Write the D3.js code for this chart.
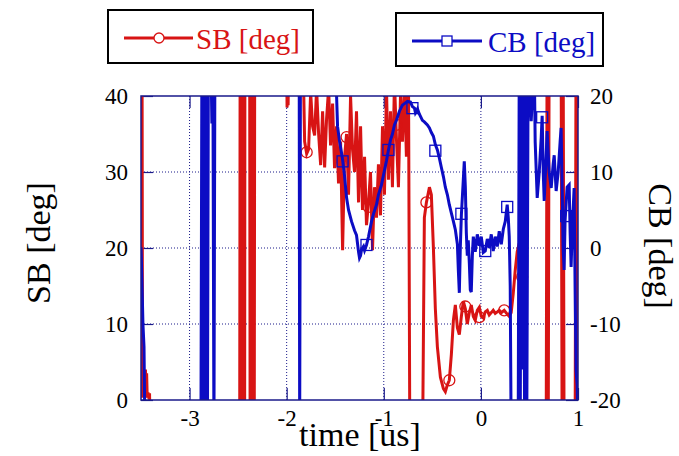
<!DOCTYPE html>
<html>
<head>
    <meta charset="utf-8">
    <title>SB / CB vs time</title>
    <script src="https://d3js.org/d3.v7.min.js" type="text/javascript"></script>
    <style type="text/css">
        body { margin: 0; background: #fff; }
        text { font-family: "Liberation Serif", "Times New Roman", serif; }
    </style>
</head>
<body>
<div id="chart"></div>
<script type="text/javascript">
    // tick values
    var timeTicks = [-3, -2, -1, 0, 1];
    var sbTicks = [0, 10, 20, 30, 40];
    var cbTicks = [-20, -10, 0, 10, 20];
    var gridTime = [-3, -2, -1, 0];
    var gridSB = [10, 20, 30];

    // SB [deg] vs time [us]  (values above 40 / below 0 run off the plot)
    var sbData = [
        [-3.499, 48], [-3.494, 0.5], [-3.489, 44], [-3.484, 0.3], [-3.478, 2.5], [-3.472, 0.4],
        [-3.466, 3.2], [-3.460, 1.0], [-3.454, 4.0], [-3.448, 0.5], [-3.442, 3.5], [-3.436, 0.3],
        [-3.428, 1.0], [-3.420, 0.2], [-3.412, 0.9], [-3.400, -8],
        [-2.484, -8], [-2.479, 48], [-2.474, -8], [-2.469, 48], [-2.464, -8], [-2.459, 48],
        [-2.454, -8], [-2.449, 48], [-2.444, -8], [-2.438, 48], [-2.433, -8], [-2.430, 48],
        [-2.381, 48], [-2.376, -8], [-2.371, 48], [-2.366, -8], [-2.361, 48], [-2.356, -8],
        [-2.351, 48], [-2.346, -8], [-2.340, 48], [-2.334, -8], [-2.329, 48],
        [-2.002, 48], [-1.996, 38.5], [-1.990, 41], [-1.985, 38.8], [-1.978, 48],
        [-1.835, 48], [-1.815, 34], [-1.794, 32.4], [-1.774, 33], [-1.753, 40.5], [-1.733, 36],
        [-1.712, 34.8], [-1.692, 41], [-1.671, 35], [-1.650, 30.9], [-1.630, 38], [-1.609, 30.6],
        [-1.589, 37], [-1.568, 41], [-1.548, 33.5], [-1.527, 39], [-1.507, 30.5], [-1.486, 36],
        [-1.466, 28.5], [-1.445, 34], [-1.424, 19.7], [-1.404, 32], [-1.383, 35], [-1.363, 27],
        [-1.342, 40], [-1.322, 33], [-1.301, 30], [-1.281, 38], [-1.260, 26], [-1.239, 36],
        [-1.219, 25], [-1.198, 32], [-1.178, 23], [-1.157, 26], [-1.137, 30], [-1.116, 19.7],
        [-1.096, 28], [-1.075, 24], [-1.055, 31], [-1.034, 24.3], [-1.013, 36], [-0.993, 27],
        [-0.972, 41], [-0.952, 29], [-0.931, 38], [-0.911, 28], [-0.890, 42], [-0.870, 34.5],
        [-0.849, 28], [-0.828, 40], [-0.808, 34], [-0.787, 42], [-0.767, 32], [-0.746, 45],
        [-0.731, -8], [-0.602, -8],
        [-0.582, 24], [-0.561, 26], [-0.530, 28], [-0.510, 27], [-0.489, 20], [-0.469, 12],
        [-0.448, 7], [-0.417, 3], [-0.386, 1.5], [-0.366, 1.1], [-0.345, 2.0], [-0.325, 2.6],
        [-0.304, 6], [-0.283, 10.5], [-0.263, 12.5], [-0.242, 9.5], [-0.222, 8.6], [-0.201, 11],
        [-0.181, 13], [-0.160, 12], [-0.140, 10], [-0.119, 11.5], [-0.099, 12.5], [-0.078, 11],
        [-0.058, 10.5], [-0.037, 11.8], [-0.016, 12.2], [0.004, 11], [0.025, 10.8], [0.045, 11.6],
        [0.066, 11.8], [0.086, 11.2], [0.107, 11.5], [0.127, 11.8], [0.148, 11.4], [0.169, 11.6],
        [0.189, 11.8], [0.210, 11.5], [0.240, 11.8], [0.271, 11.3], [0.292, 11.0], [0.312, 11.5],
        [0.333, 14], [0.353, 17], [0.374, 19.5], [0.395, 20.6], [0.415, 18], [0.425, 16.2],
        [0.446, 8], [0.467, -8],
        [0.672, -8], [0.682, 48], [0.693, -8], [0.703, 48],
        [0.826, 48], [0.837, -8], [0.847, 48], [0.857, -8],
        [0.970, -8], [0.980, 48], [0.991, -8], [1.001, 48]
    ];

    // CB [deg] vs time [us]  (values beyond +-20 run off the plot)
    var cbData = [
        [-3.500, 0.1], [-3.495, -2], [-3.490, -4.5], [-3.480, -10], [-3.469, -13], [-3.459, -25],
        [-2.883, -25], [-2.873, 25], [-2.862, -25], [-2.852, 25], [-2.837, -25], [-2.826, 25],
        [-2.816, -25], [-2.806, 25], [-2.780, 25], [-2.770, 16.4], [-2.760, 25], [-2.749, -25],
        [-2.739, 25],
        [-1.871, 25], [-1.866, -25], [-1.858, 25],
        [-1.496, 25], [-1.486, 20], [-1.476, 16], [-1.455, 14], [-1.435, 12.5], [-1.424, 11.6],
        [-1.404, 9.5], [-1.383, 6.6], [-1.363, 5], [-1.332, 3.5], [-1.301, 2.3], [-1.281, 1.7],
        [-1.260, -0.5], [-1.250, -1.3], [-1.239, -1.0], [-1.229, -0.2], [-1.209, 0.2], [-1.198, -0.3],
        [-1.178, 0.4], [-1.157, 1.5], [-1.126, 3.5], [-1.106, 4.5], [-1.075, 5.7], [-1.055, 7],
        [-1.024, 8.3], [-0.993, 10.2], [-0.972, 11.5], [-0.952, 12.9], [-0.931, 14.2], [-0.911, 15],
        [-0.890, 16.2], [-0.870, 16.8], [-0.839, 18], [-0.808, 18.8], [-0.787, 19], [-0.756, 19.3],
        [-0.725, 19.2], [-0.705, 18.6], [-0.684, 18.4], [-0.674, 17.8], [-0.653, 18.3], [-0.633, 17.6],
        [-0.602, 16.8], [-0.582, 16.6], [-0.551, 16.2], [-0.530, 15.8], [-0.510, 15.2], [-0.489, 14.7],
        [-0.469, 13.6], [-0.448, 12.9], [-0.427, 11.8], [-0.407, 10.6], [-0.386, 9.4], [-0.366, 8.0],
        [-0.345, 7.0], [-0.325, 5.7], [-0.304, 4.6], [-0.283, 3.5], [-0.263, 2.4], [-0.242, 0.5],
        [-0.232, -3], [-0.222, -5.9], [-0.212, 0], [-0.201, 4.3], [-0.181, 9], [-0.171, 11.4],
        [-0.160, 8], [-0.150, 2], [-0.140, -1], [-0.130, 1], [-0.119, -2], [-0.109, -5.5],
        [-0.099, -5.8], [-0.088, -1], [-0.078, 1.5], [-0.058, -0.5], [-0.037, 1.8], [-0.016, 0.3],
        [0.004, 1.5], [0.025, -0.6], [0.045, -0.4], [0.066, 1.2], [0.086, 0], [0.107, 1.8],
        [0.127, -0.4], [0.148, 1.5], [0.169, 0.2], [0.189, 2.2], [0.210, 0.5], [0.231, 2.5],
        [0.251, 3.5], [0.271, 5.7], [0.282, 4], [0.292, 1.5], [0.302, -5], [0.312, -25],
        [0.384, -25], [0.395, 25], [0.405, -25], [0.415, 25], [0.425, -16], [0.436, 25],
        [0.451, -25], [0.461, 25], [0.472, -25], [0.487, 25], [0.498, 22], [0.518, 16.7],
        [0.539, 22], [0.549, 25], [0.559, 14], [0.580, 6.6], [0.601, 10], [0.621, 14.5],
        [0.631, 17.4], [0.642, 10], [0.652, 6.2], [0.672, 12], [0.682, 15.4], [0.703, 10],
        [0.724, 7.9], [0.744, 11], [0.755, 12.2], [0.775, 7.5], [0.796, 10], [0.816, 14],
        [0.826, 15.8], [0.837, 8], [0.847, 0], [0.857, -2.9], [0.867, 3.6], [0.888, 8],
        [0.909, 8.3], [0.919, 2], [0.929, -2.5], [0.939, 1.7], [0.950, 5], [0.960, 7.9],
        [0.970, -5], [0.980, -16], [0.991, -18], [1.001, -25]
    ];

    // marker positions on each curve
    var sbMarks = [
        [-1.794, 32.6], [-1.383, 34.6], [-1.157, 25.4], [-0.870, 36.2], [-0.561, 26],
        [-0.325, 2.6], [-0.160, 12.3], [-0.016, 10.9], [0.240, 11.8], [0.425, 16.2]
    ];
    var cbMarks = [
        [-1.424, 11.4], [-1.178, 0.4], [-0.952, 12.9], [-0.705, 18.4], [-0.469, 12.8],
        [-0.201, 4.5], [0.045, -0.4], [0.271, 5.4], [0.631, 17.2], [0.878, 4.2]
    ];

    var red = '#d81414', blue = '#0c0cc4', navy = '#1a1a8a';
    var box = {left: 141, right: 578, top: 96, bottom: 400};

    var x = d3.scaleLinear().domain([-3.5, 1]).range([box.left, box.right]);
    var ySB = d3.scaleLinear().domain([0, 40]).range([box.bottom, box.top]);
    var yCB = d3.scaleLinear().domain([-20, 20]).range([box.bottom, box.top]);
    var plain = function(d) { return String(d); }; // plain hyphen minus, no decimals

    var svg = d3.select('#chart').append('svg')
        .attr('width', 679)
        .attr('height', 456);

    svg.append('defs').append('clipPath').attr('id', 'clip')
        .append('rect')
        .attr('x', box.left).attr('y', box.top)
        .attr('width', box.right - box.left).attr('height', box.bottom - box.top);

    // dotted grid
    svg.append('g').selectAll('line').data(gridTime).enter().append('line')
        .attr('x1', function(d) { return x(d); }).attr('x2', function(d) { return x(d); })
        .attr('y1', box.top).attr('y2', box.bottom)
        .attr('stroke', navy).attr('stroke-width', 1).attr('stroke-dasharray', '1,2');
    svg.append('g').selectAll('line').data(gridSB).enter().append('line')
        .attr('x1', box.left).attr('x2', box.right)
        .attr('y1', function(d) { return ySB(d); }).attr('y2', function(d) { return ySB(d); })
        .attr('stroke', navy).attr('stroke-width', 1).attr('stroke-dasharray', '1,2');

    // axes, ticks pointing inward
    function styleAxis(g, fs) {
        g.select('.domain').remove();
        g.selectAll('.tick line').attr('stroke', navy).attr('stroke-width', 1.2);
        g.selectAll('.tick text').attr('fill', '#000').attr('font-size', fs)
            .attr('font-family', '"Liberation Serif", "Times New Roman", serif');
    }
    svg.append('g').attr('transform', 'translate(0,' + box.bottom + ')')
        .call(d3.axisBottom(x).tickValues(timeTicks).tickFormat(plain)
            .tickSizeInner(-12).tickSizeOuter(0).tickPadding(10))
        .call(styleAxis, 23);
    svg.append('g').attr('transform', 'translate(0,' + box.top + ')')
        .call(d3.axisTop(x).tickValues(timeTicks).tickSizeInner(-12).tickSizeOuter(0).tickFormat(''))
        .call(styleAxis, 23);
    svg.append('g').attr('transform', 'translate(' + box.left + ',0)')
        .call(d3.axisLeft(ySB).tickValues(sbTicks).tickFormat(plain)
            .tickSizeInner(-12).tickSizeOuter(0).tickPadding(13))
        .call(styleAxis, 23);
    svg.append('g').attr('transform', 'translate(' + box.right + ',0)')
        .call(d3.axisRight(yCB).tickValues(cbTicks).tickFormat(plain)
            .tickSizeInner(-12).tickSizeOuter(0).tickPadding(12))
        .call(styleAxis, 23);

    // curves
    var plot = svg.append('g').attr('clip-path', 'url(#clip)');
    var sbLine = d3.line().x(function(d) { return x(d[0]); }).y(function(d) { return ySB(d[1]); });
    var cbLine = d3.line().x(function(d) { return x(d[0]); }).y(function(d) { return yCB(d[1]); });

    plot.append('path').datum(sbData).attr('d', sbLine)
        .attr('fill', 'none').attr('stroke', red).attr('stroke-width', 3);
    plot.selectAll('circle.sb').data(sbMarks).enter().append('circle')
        .attr('class', 'sb')
        .attr('cx', function(d) { return x(d[0]); }).attr('cy', function(d) { return ySB(d[1]); })
        .attr('r', 5.5).attr('fill', 'none').attr('stroke', red).attr('stroke-width', 1.3);

    plot.append('path').datum(cbData).attr('d', cbLine)
        .attr('fill', 'none').attr('stroke', blue).attr('stroke-width', 3);
    plot.selectAll('rect.cb').data(cbMarks).enter().append('rect')
        .attr('class', 'cb')
        .attr('x', function(d) { return x(d[0]) - 5.5; }).attr('y', function(d) { return yCB(d[1]) - 5.5; })
        .attr('width', 11).attr('height', 11)
        .attr('fill', 'none').attr('stroke', blue).attr('stroke-width', 1.3);

    // frame
    svg.append('rect')
        .attr('x', box.left).attr('y', box.top)
        .attr('width', box.right - box.left).attr('height', box.bottom - box.top)
        .attr('fill', 'none').attr('stroke', navy).attr('stroke-width', 1.5);

    // axis titles
    svg.append('text').attr('transform', 'translate(50,243) rotate(-90)')
        .attr('text-anchor', 'middle').attr('font-size', 34).text('SB [deg]');
    svg.append('text').attr('transform', 'translate(649,246) rotate(90)')
        .attr('text-anchor', 'middle').attr('font-size', 34).text('CB [deg]');
    svg.append('text').attr('x', 360).attr('y', 446)
        .attr('text-anchor', 'middle').attr('font-size', 34).text('time [us]');

    // legends
    var lg1 = svg.append('g');
    lg1.append('rect').attr('x', 108).attr('y', 10).attr('width', 205).attr('height', 53)
        .attr('fill', '#fff').attr('stroke', '#000').attr('stroke-width', 2);
    lg1.append('line').attr('x1', 124).attr('x2', 193).attr('y1', 38).attr('y2', 38)
        .attr('stroke', red).attr('stroke-width', 3);
    lg1.append('circle').attr('cx', 159).attr('cy', 38).attr('r', 5)
        .attr('fill', '#fff').attr('stroke', red).attr('stroke-width', 1.3);
    lg1.append('text').attr('x', 196).attr('y', 49).attr('font-size', 29)
        .attr('fill', red).text('SB [deg]');

    var lg2 = svg.append('g');
    lg2.append('rect').attr('x', 396).attr('y', 13).attr('width', 207).attr('height', 53)
        .attr('fill', '#fff').attr('stroke', '#000').attr('stroke-width', 2);
    lg2.append('line').attr('x1', 412).attr('x2', 482).attr('y1', 41).attr('y2', 41)
        .attr('stroke', blue).attr('stroke-width', 3);
    lg2.append('rect').attr('x', 442).attr('y', 36).attr('width', 10).attr('height', 10)
        .attr('fill', '#fff').attr('stroke', blue).attr('stroke-width', 1.3);
    lg2.append('text').attr('x', 488).attr('y', 52).attr('font-size', 29)
        .attr('fill', blue).text('CB [deg]');
</script>
</body>
</html>
